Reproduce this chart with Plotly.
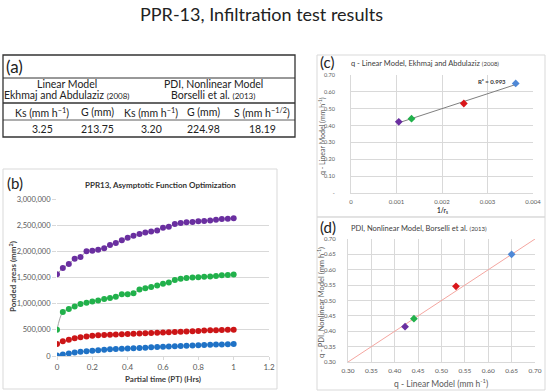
import plotly.graph_objects as go
import numpy as np

W, H = 550, 392

# ---------------- data ----------------
# panel (a) table
table_models = ["Linear Model", "PDI, Nonlinear Model"]
table_refs = ["Ekhmaj and Abdulaziz", "Borselli et al."]
table_years = ["(2008)", "(2013)"]
table_headers = ["Ks (mm h<sup>−1</sup>)", "G (mm)", "Ks (mm h<sup>−1</sup>)", "G (mm)", "S (mm h<sup>−1/2</sup>)"]
table_values = ["3.25", "213.75", "3.20", "224.98", "18.19"]

# panel (b) ponded areas vs partial time
partial_time = [0, 0.033, 0.067, 0.1, 0.133, 0.167, 0.2, 0.233, 0.267, 0.3,
                0.333, 0.367, 0.4, 0.433, 0.467, 0.5, 0.533, 0.567, 0.6, 0.633,
                0.667, 0.7, 0.733, 0.767, 0.8, 0.833, 0.867, 0.9, 0.933, 0.967, 1.0]
area_purple = [1560000, 1680000, 1760000, 1860000, 1890000, 2000000, 2010000, 2030000, 2060000, 2120000,
               2160000, 2210000, 2260000, 2300000, 2330000, 2360000, 2380000, 2400000, 2450000, 2470000,
               2520000, 2540000, 2555000, 2560000, 2575000, 2580000, 2590000, 2605000, 2620000, 2625000, 2630000]
area_green = [500000, 840000, 900000, 945000, 995000, 1017000, 1040000, 1060000, 1090000, 1110000,
              1130000, 1180000, 1180000, 1200000, 1270000, 1295000, 1320000, 1345000, 1380000, 1405000,
              1450000, 1475000, 1490000, 1500000, 1507000, 1513000, 1520000, 1530000, 1545000, 1550000, 1555000]
area_red = [230000, 280000, 310000, 340000, 360000, 375000, 385000, 395000, 400000, 405000,
            410000, 415000, 420000, 425000, 430000, 435000, 440000, 445000, 450000, 455000,
            460000, 465000, 470000, 475000, 480000, 485000, 490000, 490000, 495000, 500000, 500000]
area_blue = [10000, 30000, 50000, 65000, 80000, 90000, 100000, 110000, 120000, 130000,
             135000, 140000, 145000, 150000, 155000, 160000, 165000, 170000, 175000, 180000,
             185000, 190000, 195000, 200000, 205000, 210000, 215000, 220000, 220000, 225000, 230000]

# panel (c) q linear model vs 1/rs
inv_rs = [0.00105, 0.00133, 0.00248, 0.00362]
q_linear = [0.422, 0.441, 0.531, 0.650]
r2_text = "R² = 0.993"

# panel (d) q nonlinear vs q linear
q_nonlinear = [0.415, 0.441, 0.546, 0.650]
one_to_one = [0.30, 0.70]

series_colors = ["#6a2fa0", "#21b14b", "#cc1517", "#1f72c6"]
cd_colors = ["#6a2fa0", "#21b14b", "#d9161a", "#4f88d6"]

FONT = "Lato"
TFONT = "Lato"

fig = go.Figure()

# ---- panel (b) traces ----
for ys, col in zip([area_purple, area_green, area_red, area_blue], series_colors):
    fig.add_trace(go.Scatter(x=partial_time, y=ys, mode="lines",
                             line=dict(color="#a6a6a6", width=1, shape="spline", smoothing=1.0),
                             xaxis="x", yaxis="y", showlegend=False, hoverinfo="skip"))
    fig.add_trace(go.Scatter(x=partial_time, y=ys, mode="markers", marker=dict(color=col, size=6),
                             xaxis="x", yaxis="y", showlegend=False))

# ---- panel (c) ----
slope, icpt = np.polyfit(inv_rs, q_linear, 1)
fit_x = [min(inv_rs), max(inv_rs)]
fit_y = [slope * v + icpt for v in fit_x]
fig.add_trace(go.Scatter(x=fit_x, y=fit_y, mode="lines", line=dict(color="#7f7f7f", width=1),
                         xaxis="x2", yaxis="y2", showlegend=False))
fig.add_trace(go.Scatter(x=inv_rs, y=q_linear, mode="markers",
                         marker=dict(color=cd_colors, size=6, symbol="diamond"),
                         xaxis="x2", yaxis="y2", showlegend=False))

# ---- panel (d) ----
fig.add_trace(go.Scatter(x=one_to_one, y=one_to_one, mode="lines", line=dict(color="#f4a6a0", width=1),
                         xaxis="x3", yaxis="y3", showlegend=False))
fig.add_trace(go.Scatter(x=q_linear, y=q_nonlinear, mode="markers",
                         marker=dict(color=cd_colors, size=6, symbol="diamond"),
                         xaxis="x3", yaxis="y3", showlegend=False))

def px(x):
    return x / W

def py(y):
    return 1 - y / H

grid = "#d9d9d9"
tickc = "#595959"

fig.update_layout(
    width=W, height=H, margin=dict(l=0, r=0, t=0, b=0, pad=0), autosize=False,
    paper_bgcolor="white", plot_bgcolor="white", showlegend=False,
    font=dict(family=FONT, color="#404040"),
    xaxis=dict(domain=[px(57), px(269)], range=[0, 1.2], dtick=0.2, showgrid=False, anchor="y",
               tickfont=dict(size=8, color=tickc), showline=True, linecolor=grid, zeroline=False,
               ticks="outside", tickcolor=grid, ticklen=3, automargin=False),
    yaxis=dict(domain=[py(356), py(199)], range=[0, 3000000], dtick=500000, tickformat=",", showgrid=True,
               gridcolor=grid, anchor="x", tickfont=dict(size=7.5, color=tickc),
               showline=False, zeroline=False, ticks="outside", tickcolor=grid, ticklen=4, automargin=False),
    xaxis2=dict(domain=[px(351), px(533)], range=[0, 0.004], tickvals=[0, 0.001, 0.002, 0.003, 0.004],
                ticktext=["0", "0.001", "0.002", "0.003", "0.004"], showgrid=True, gridcolor=grid, anchor="y2",
                tickfont=dict(size=6, color=tickc), showline=True, linecolor=grid, zeroline=False,
                ticklabelstandoff=3, automargin=False),
    yaxis2=dict(domain=[py(193), py(75)], range=[0, 0.7], tickvals=[0, 0.1, 0.2, 0.3, 0.4, 0.5, 0.6, 0.7],
                ticktext=["-", "0.10", "0.20", "0.30", "0.40", "0.50", "0.60", "0.70"], showgrid=True,
                gridcolor=grid, anchor="x2", tickfont=dict(size=5.5, color=tickc),
                showline=True, linecolor=grid, zeroline=False, ticklabelstandoff=14, automargin=False),
    xaxis3=dict(domain=[px(348), px(535)], range=[0.3, 0.7], dtick=0.05, tick0=0.3, tickformat=".2f",
                showgrid=True, gridcolor=grid, anchor="y3", tickfont=dict(size=6.5, color=tickc),
                showline=True, linecolor=grid, zeroline=False, ticklabelstandoff=2, automargin=False),
    yaxis3=dict(domain=[py(362), py(239)], range=[0.3, 0.7], dtick=0.05, tick0=0.3, tickformat=".2f",
                showgrid=True, gridcolor=grid, anchor="x3", tickfont=dict(size=6, color=tickc),
                showline=True, linecolor=grid, zeroline=False, ticklabelstandoff=10, automargin=False),
)

shapes = []
def hline(x0, x1, y, color="#333333", width=1):
    shapes.append(dict(type="line", xref="paper", yref="paper", x0=px(x0), x1=px(x1), y0=py(y), y1=py(y),
                       line=dict(color=color, width=width)))

def rect(x0, y0, x1, y1, color, width=1):
    shapes.append(dict(type="rect", xref="paper", yref="paper", x0=px(x0), x1=px(x1), y0=py(y1), y1=py(y0),
                       line=dict(color=color, width=width)))

# table box and lines
rect(3, 55, 295, 137, "#333333", 1.3)
hline(3, 295, 78, width=1)
hline(3, 295, 103, width=1.5)
hline(3, 295, 120, width=0.8)
# panel boxes
rect(3, 169, 277, 389, "#d9d9d9", 1)
rect(317, 55, 545, 217, "#d9d9d9", 1)
rect(317, 217, 545, 390, "#d9d9d9", 1)
fig.update_layout(shapes=shapes)

ann = []
def text(x, y, t, size, anchor="center", color="#222222", family=TFONT, angle=0, bold=False):
    if bold:
        t = "<b>" + t + "</b>"
    ann.append(dict(x=px(x), y=py(y), xref="paper", yref="paper", text=t, showarrow=False,
                    xanchor=anchor, yanchor="middle", textangle=angle,
                    font=dict(size=size, color=color, family=family)))

# main title
text(261, 14, "PPR-13, Infiltration test results", 18, color="#222222")

# table
text(4, 66, "(a)", 17, anchor="left")
text(67, 84, table_models[0], 10.5)
text(67, 95, table_refs[0] + " <span style='font-size:8px'>" + table_years[0] + "</span>", 10.5)
text(213, 84, table_models[1], 10.5)
text(213, 95, table_refs[1] + " <span style='font-size:8px'>" + table_years[1] + "</span>", 10.5)
for xc, h, v in zip([42, 97, 151, 203, 262], table_headers, table_values):
    text(xc, 112, h, 10.5)
    text(xc, 129, v, 10.5)

# panel (b)
text(5, 183, "(b)", 15, anchor="left")
text(160, 185, "PPR13, Asymptotic Function Optimization", 8, bold=True, family=FONT, color="#333333")
text(12, 277, "Ponded areas (mm<sup>2</sup>)", 8, angle=-90, bold=True, family=FONT, color="#404040")
text(163, 379, "Partial time (PT) (Hrs)", 8, bold=True, family=FONT, color="#404040")

# panel (c)
text(318, 62, "(c)", 15, anchor="left")
text(349, 64, "q - Linear Model, Ekhmaj and Abdulaziz <span style='font-size:6px'>(2008)</span>", 7.5,
     anchor="left", family=FONT, color="#404040")
text(322, 136, "q - Linear Model (mm h<sup>-1</sup>)", 7, angle=-90, family=FONT, color="#595959")
text(442, 211, "1/r<sub>s</sub>", 6.5, bold=True, family=FONT, color="#404040")
ann.append(dict(x=0.0031, y=0.66, xref="x2", yref="y2", text="<b>" + r2_text + "</b>", showarrow=False,
                font=dict(size=6, color="#333333", family=FONT)))

# panel (d)
text(318, 227, "(d)", 15, anchor="left")
text(349, 229, "PDI, Nonlinear Model, Borselli et al. <span style='font-size:6px'>(2013)</span>", 7.5,
     anchor="left", family=FONT, color="#404040")
text(321, 303, "q - PDI, Nonlinear Model (mm h<sup>-1</sup>)", 7.5, angle=-90, family=FONT, color="#595959")
text(441, 383, "q - Linear Model (mm h<sup>-1</sup>)", 8.5, family=FONT, color="#595959")

fig.update_layout(annotations=ann)

# remove the page's default body margin so the figure fills the window exactly
fig.write_html("out.html", config={"displayModeBar": False},
               post_script="document.body.style.margin='0';document.body.style.overflow='hidden';")
